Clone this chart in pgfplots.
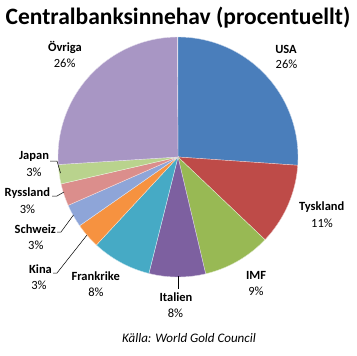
\documentclass[border=0pt]{standalone}
\usepackage{pgfplots}
\pgfplotsset{compat=1.18}
\usepackage{pgfplotstable}
\usepackage{fontspec}
\setmainfont{Carlito}
\definecolor{c0}{HTML}{4A7EBB}
\definecolor{c1}{HTML}{BE4B48}
\definecolor{c2}{HTML}{98B954}
\definecolor{c3}{HTML}{7D60A0}
\definecolor{c4}{HTML}{46AAC5}
\definecolor{c5}{HTML}{F69240}
\definecolor{c6}{HTML}{8EA5D8}
\definecolor{c7}{HTML}{DB8E8C}
\definecolor{c8}{HTML}{B9D38D}
\definecolor{c9}{HTML}{A896C4}
\pgfplotstableread{
name value
USA 26.1
Tyskland 11.0
IMF 9.2
Italien 7.6
Frankrike 8.0
Kina 3.4
Schweiz 3.1
Ryssland 3.0
Japan 2.6
Ovriga 25.9
}\piedata
\begin{document}
\begin{tikzpicture}
\begin{axis}[
  width=357pt, height=356pt, scale only axis,
  xmin=0, xmax=357, ymin=0, ymax=356, y dir=reverse,
  hide axis, clip=false,
]
\path (rel axis cs:0,0) rectangle (rel axis cs:1,1);
\def\cum{90}
\pgfplotsforeachungrouped \i in {0,...,9}{%
  \pgfplotstablegetelem{\i}{value}\of\piedata
  \pgfmathsetmacro\a{\cum}%
  \pgfmathsetmacro\b{\cum - 3.6*\pgfplotsretval}%
  \edef\temp{\noexpand\fill[color=c\i, draw=white!70!c\i, line width=0.4pt]
    (178,157) -- plot[domain=\a:\b, samples=60] ({178+120*cos(\noexpand\x)},{157-120*sin(\noexpand\x)}) -- cycle;}%
  \temp
  \global\let\cum\b
}
% leader lines
\draw[black, line width=0.5pt] (50,161) -- (57,161) -- (60.5,173);
\draw[black, line width=0.5pt] (52,196) -- (57,196) -- (64,192);
\draw[black, line width=0.5pt] (57,232) -- (61,232) -- (73.5,215);
\draw[black, line width=0.5pt] (53,273) -- (57,273) -- (87,235);
\draw[black, line width=0.5pt] (178,276) -- (178,289);
% title
\node[font=\bfseries\fontsize{23.5}{26}\selectfont] at (178,18) {Centralbanksinnehav (procentuellt)};
% labels
\tikzset{nm/.style={font=\bfseries\fontsize{12.5}{14}\selectfont, inner sep=0pt},
         pc/.style={font=\fontsize{12.5}{14}\selectfont, inner sep=0pt}}
\node[nm] at (286,49) {USA};       \node[pc] at (286.5,64) {26\%};
\node[nm] at (321.7,207.5) {Tyskland}; \node[pc] at (322,223) {11\%};
\node[nm] at (256,275) {IMF};      \node[pc] at (256,291) {9\%};
\node[nm] at (176,297.5) {Italien};  \node[pc] at (175.5,313.5) {8\%};
\node[nm] at (95.7,276) {Frankrike};\node[pc] at (96,292) {8\%};
\node[nm] at (40.5,269.5) {Kina};      \node[pc] at (39,285) {3\%};
\node[nm] at (35.3,229.5) {Schweiz};   \node[pc] at (35.8,245) {3\%};
\node[nm] at (27.3,193) {Ryssland};  \node[pc] at (27.5,209) {3\%};
\node[nm] at (34,156) {Japan};     \node[pc] at (34,172) {3\%};
\node[nm] at (65,47) {Övriga};     \node[pc] at (64.7,63.3) {26\%};
\node[font=\itshape\fontsize{13}{15}\selectfont] at (189,338) {Källa: World Gold Council};
\end{axis}
\end{tikzpicture}
\end{document}
